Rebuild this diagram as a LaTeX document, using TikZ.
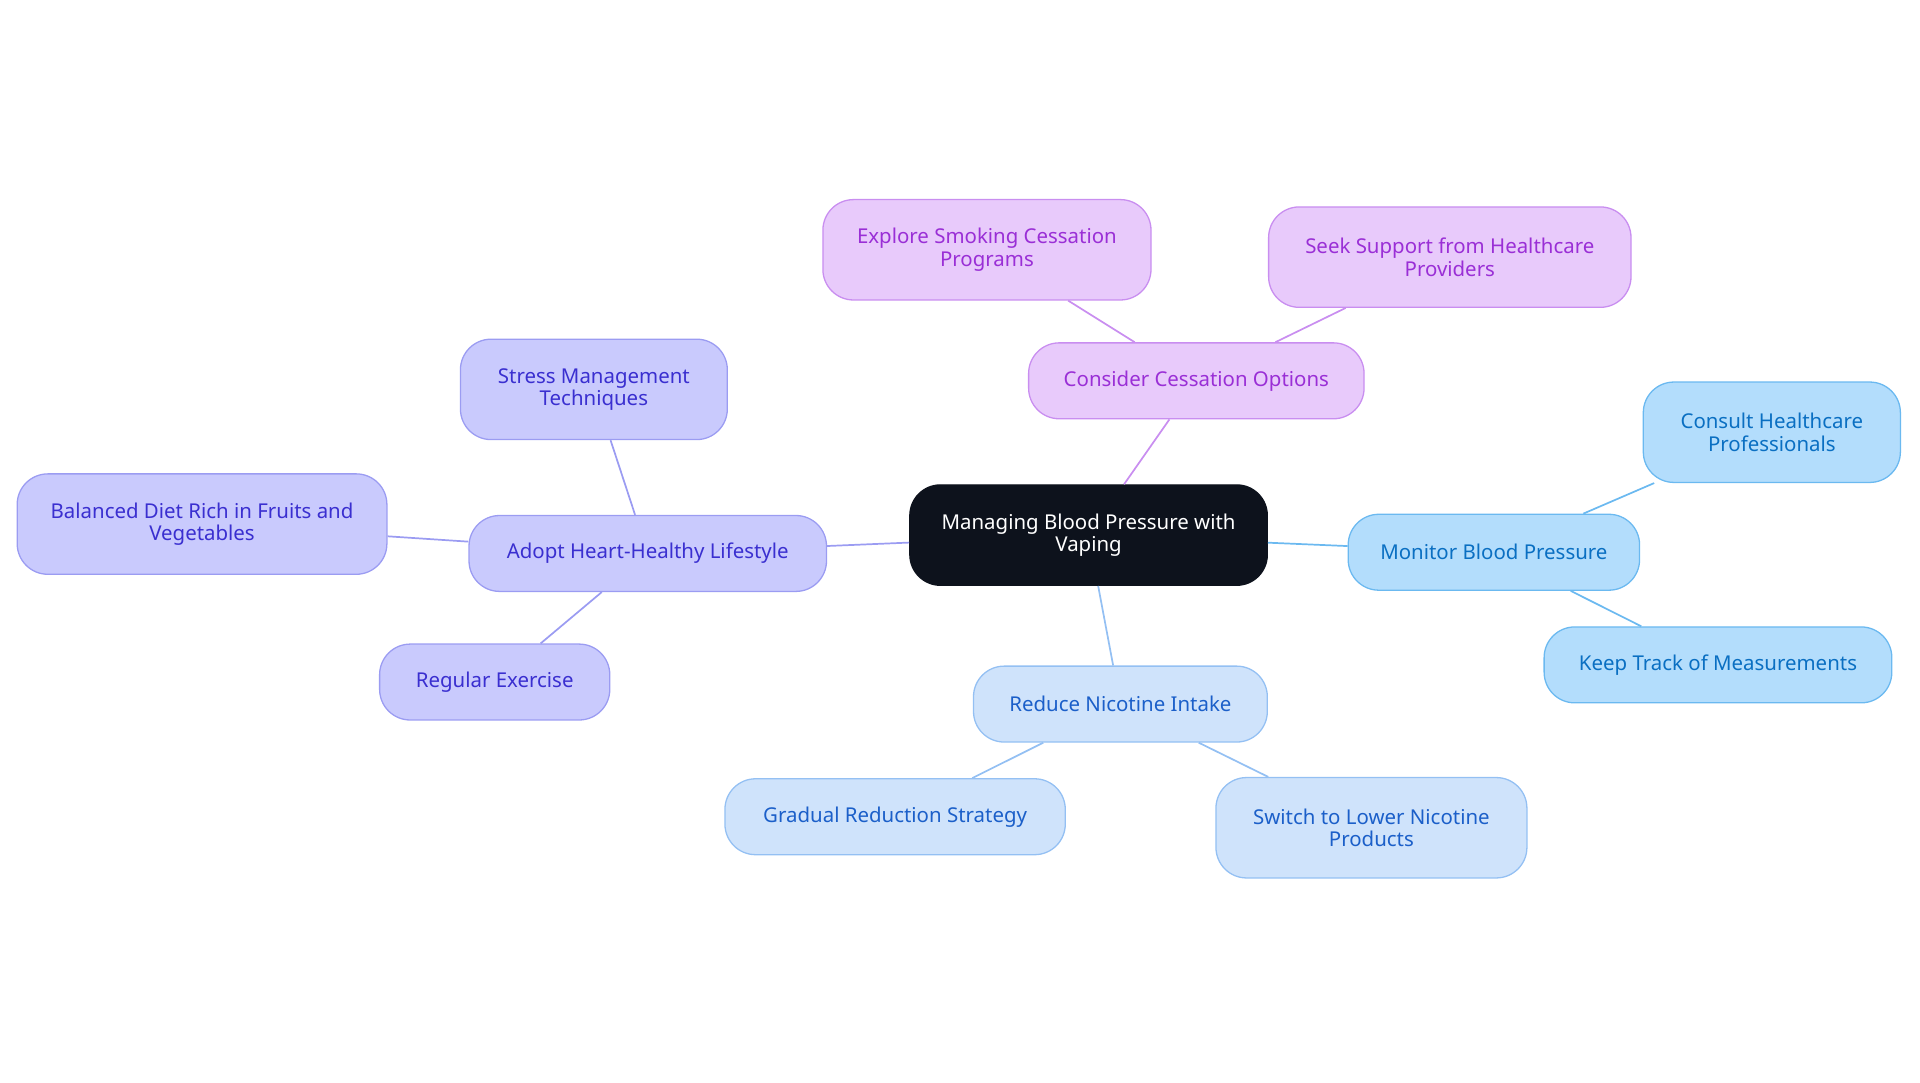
\documentclass[tikz,border=0pt]{standalone}
\usepackage{fontspec}
\setmainfont{Noto Sans}
\usepackage{xcolor}
\usetikzlibrary{shapes, positioning}

\definecolor{rootfill}{HTML}{0D121C}
\definecolor{purfill}{HTML}{E8CAFB}
\definecolor{purline}{HTML}{C98EF0}
\definecolor{purtext}{HTML}{9A2FD6}
\definecolor{indfill}{HTML}{C9CAFD}
\definecolor{indline}{HTML}{9B9CF2}
\definecolor{indtext}{HTML}{3A2FD0}
\definecolor{skyfill}{HTML}{B3DDFC}
\definecolor{skyline}{HTML}{6BB9F0}
\definecolor{skytext}{HTML}{0A6FC2}
\definecolor{blufill}{HTML}{CFE3FB}
\definecolor{bluline}{HTML}{94C0F3}
\definecolor{blutext}{HTML}{1B5FC9}

\tikzset{
  box/.style={draw, rounded corners=0.5cm, align=center, line width=0.6pt,
    font=\fontsize{9.5}{10.5}\selectfont, inner sep=2pt},
  root/.style={box, fill=rootfill, draw=rootfill, text=white},
  pur/.style={box, fill=purfill, draw=purline, text=purtext},
  ind/.style={box, fill=indfill, draw=indline, text=indtext},
  sky/.style={box, fill=skyfill, draw=skyline, text=skytext},
  blu/.style={box, fill=blufill, draw=bluline, text=blutext},
}

\begin{document}
\begin{tikzpicture}[x=0.02cm, y=-0.02cm]
    \useasboundingbox (0,0) rectangle (1568,884);
    \node[root, minimum width=5.84cm, minimum height=1.64cm] (mbp) at (889,437) {Managing Blood Pressure with\\Vaping};

    \node[pur, minimum width=5.48cm, minimum height=1.24cm] (cco) at (977,311) {Consider Cessation Options};
    \node[pur, minimum width=5.36cm, minimum height=1.64cm] (esc) at (806,204) {Explore Smoking Cessation\\Programs};
    \node[pur, minimum width=5.92cm, minimum height=1.64cm] (ssh) at (1184,210) {Seek Support from Healthcare\\Providers};

    \node[ind, minimum width=5.84cm, minimum height=1.24cm] (ahl) at (529,452) {Adopt Heart-Healthy Lifestyle};
    \node[ind, minimum width=4.36cm, minimum height=1.64cm] (smt) at (485,318) {Stress Management\\Techniques};
    \node[ind, minimum width=6.04cm, minimum height=1.64cm] (bdr) at (165,428) {Balanced Diet Rich in Fruits and\\Vegetables};
    \node[ind, minimum width=3.76cm, minimum height=1.24cm] (rex) at (404,557) {Regular Exercise};

    \node[sky, minimum width=4.76cm, minimum height=1.24cm] (mbl) at (1220,451) {Monitor Blood Pressure};
    \node[sky, minimum width=4.2cm, minimum height=1.64cm] (chp) at (1447,353) {Consult Healthcare\\Professionals};
    \node[sky, minimum width=5.68cm, minimum height=1.24cm] (ktm) at (1403,543) {Keep Track of Measurements};

    \node[blu, minimum width=4.8cm, minimum height=1.24cm] (rni) at (915,575) {Reduce Nicotine Intake};
    \node[blu, minimum width=5.56cm, minimum height=1.24cm] (grs) at (731,667) {Gradual Reduction Strategy};
    \node[blu, minimum width=5.08cm, minimum height=1.64cm] (sln) at (1120,676) {Switch to Lower Nicotine\\Products};

    \draw[purline, thick] (mbp) -- (cco) (cco) -- (esc) (cco) -- (ssh);
    \draw[indline, thick] (mbp) -- (ahl) (ahl) -- (smt) (ahl) -- (bdr) (ahl) -- (rex);
    \draw[skyline, thick] (mbp) -- (mbl) (mbl) -- (chp) (mbl) -- (ktm);
    \draw[bluline, thick] (mbp) -- (rni) (rni) -- (grs) (rni) -- (sln);
\end{tikzpicture}
\end{document}
